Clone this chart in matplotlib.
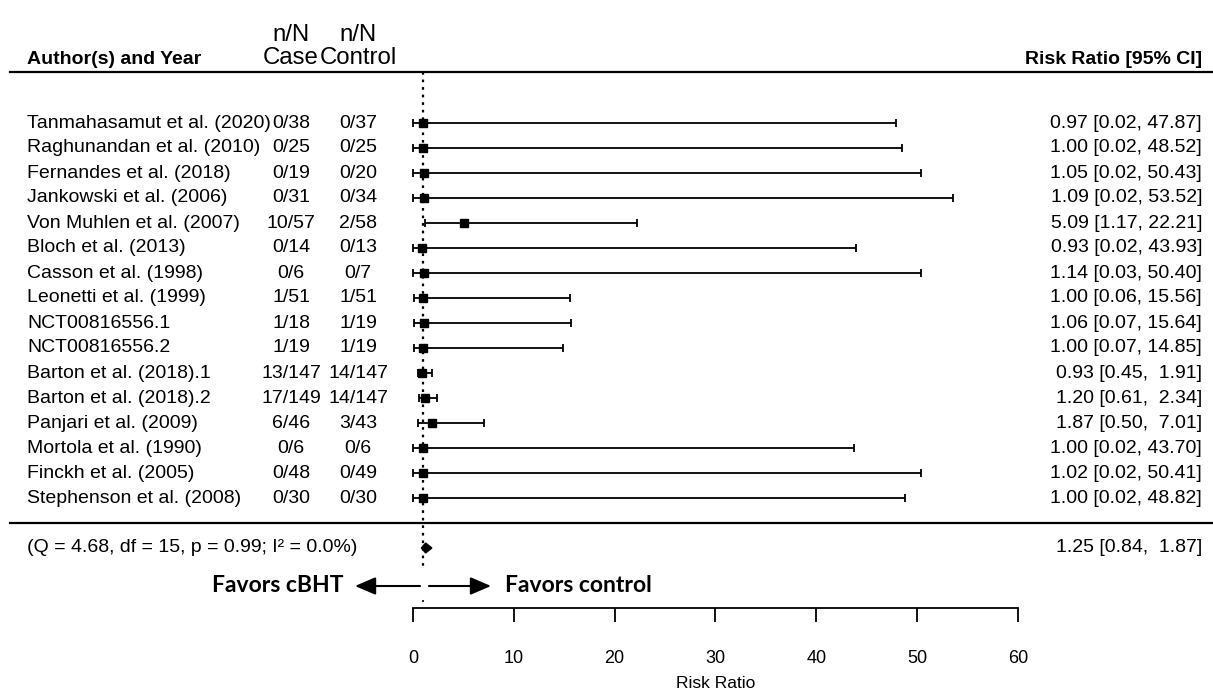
import matplotlib
matplotlib.use('Agg')
import matplotlib.pyplot as plt
import numpy as np

# study data
studies = ["Tanmahasamut et al. (2020)", "Raghunandan et al. (2010)", "Fernandes et al. (2018)",
           "Jankowski et al. (2006)", "Von Muhlen et al. (2007)", "Bloch et al. (2013)",
           "Casson et al. (1998)", "Leonetti et al. (1999)", "NCT00816556.1", "NCT00816556.2",
           "Barton et al. (2018).1", "Barton et al. (2018).2", "Panjari et al. (2009)",
           "Mortola et al. (1990)", "Finckh et al. (2005)", "Stephenson et al. (2008)"]
case_nN = ["0/38", "0/25", "0/19", "0/31", "10/57", "0/14", "0/6", "1/51", "1/18", "1/19",
           "13/147", "17/149", "6/46", "0/6", "0/48", "0/30"]
control_nN = ["0/37", "0/25", "0/20", "0/34", "2/58", "0/13", "0/7", "1/51", "1/19", "1/19",
              "14/147", "14/147", "3/43", "0/6", "0/49", "0/30"]
rr = [0.97, 1.00, 1.05, 1.09, 5.09, 0.93, 1.14, 1.00, 1.06, 1.00, 0.93, 1.20, 1.87, 1.00, 1.02, 1.00]
ci_lo = [0.02, 0.02, 0.02, 0.02, 1.17, 0.02, 0.03, 0.06, 0.07, 0.07, 0.45, 0.61, 0.50, 0.02, 0.02, 0.02]
ci_hi = [47.87, 48.52, 50.43, 53.52, 22.21, 43.93, 50.40, 15.56, 15.64, 14.85, 1.91, 2.34, 7.01,
         43.70, 50.41, 48.82]

# pooled estimate
pooled = 1.25
pooled_lo = 0.84
pooled_hi = 1.87
het_text = "(Q = 4.68, df = 15, p = 0.99; I\u00b2 = 0.0%)"
x_ticks = [0, 10, 20, 30, 40, 50, 60]

# layout (pixels of a 1213x695 canvas)
W, H = 1213, 695
X0_PX = 413.0          # where RR = 0 sits
PX_PER_RR = 10.083
ROW0_PX = 123.0        # first study row
ROW_PX = 25.0


def px2x(px):
    return (px - X0_PX) / PX_PER_RR


def px2y(py):
    return (py - ROW0_PX) / ROW_PX


fig = plt.figure(figsize=(W / 100, H / 100), dpi=100)
ax = fig.add_axes([0, 0, 1, 1])
ax.set_xlim(px2x(0), px2x(W))
ax.set_ylim(px2y(H), px2y(0))

font = ['Liberation Sans', 'DejaVu Sans']
fs = 14
k = len(studies)
rows = np.arange(k)

# headers
ax.text(px2x(27), px2y(64), "Author(s) and Year", family=font, fontsize=fs, fontweight='bold',
        ha='left', va='baseline')
ax.text(px2x(1202), px2y(64), "Risk Ratio [95% CI]", family=font, fontsize=fs, fontweight='bold',
        ha='right', va='baseline')
for cx, lab in [(291, "Case"), (358, "Control")]:
    ax.text(px2x(cx), px2y(64), lab, family=font, fontsize=17.3, ha='center', va='baseline')
    ax.text(px2x(cx), px2y(41), "n/N", family=font, fontsize=17.3, ha='center', va='baseline')

# horizontal rules
ax.axhline(px2y(72), xmin=10 / W, xmax=1, color='black', lw=1.6)
ax.axhline(k, xmin=10 / W, xmax=1, color='black', lw=1.6)

# reference line at RR = 1 (partly hidden behind the favors labels)
dots = (0, (1.2, 2.2))
ax.plot([1, 1], [px2y(72), px2y(566)], color='black', lw=1.6, linestyle=dots)
ax.plot([1, 1], [px2y(600), px2y(603)], color='black', lw=1.2, linestyle=dots)

# study rows
for i in range(k):
    ax.text(px2x(27), rows[i], studies[i], family=font, fontsize=fs, ha='left', va='center')
    ax.text(px2x(291), rows[i], case_nN[i], family=font, fontsize=fs, ha='center', va='center')
    ax.text(px2x(358), rows[i], control_nN[i], family=font, fontsize=fs, ha='center', va='center')
    lab = "%.2f [%.2f, %5.2f]" % (rr[i], ci_lo[i], ci_hi[i])
    ax.text(px2x(1202), rows[i], lab, family=font, fontsize=fs, ha='right', va='center')

ax.hlines(rows, ci_lo, ci_hi, color='black', lw=1.3)
ax.plot(ci_lo, rows, '|', color='black', ms=6, mew=1.3)
ax.plot(ci_hi, rows, '|', color='black', ms=6, mew=1.3)
ax.plot(rr, rows, 's', color='black', ms=6)

# pooled row
ys = k + 1
ax.fill([pooled_lo, pooled, pooled_hi, pooled], [ys, ys - 0.2, ys, ys + 0.2], color='black')
ax.text(px2x(27), ys, het_text, family=font, fontsize=fs, ha='left', va='center')
ax.text(px2x(1202), ys, "%.2f [%.2f, %5.2f]" % (pooled, pooled_lo, pooled_hi), family=font,
        fontsize=fs, ha='right', va='center')

# favors annotation
yf = px2y(586)
arrow = dict(arrowstyle='-|>,head_length=0.7,head_width=0.3', color='black', lw=1.5,
             shrinkA=0, shrinkB=0, mutation_scale=18)
ax.annotate("", xy=(px2x(355), yf), xytext=(px2x(420), yf), arrowprops=arrow)
ax.annotate("", xy=(px2x(491), yf), xytext=(px2x(429), yf), arrowprops=arrow)
ax.text(px2x(343), yf, "Favors cBHT", family=['Lato', 'DejaVu Sans'], fontsize=16.5,
        fontweight='bold', ha='right', va='center')
ax.text(px2x(505), yf, "Favors control", family=['Lato', 'DejaVu Sans'], fontsize=16.5,
        fontweight='bold', ha='left', va='center')

# risk ratio axis
for s in ['top', 'left', 'right']:
    ax.spines[s].set_visible(False)
ax.spines['bottom'].set_position(('data', px2y(608)))
ax.spines['bottom'].set_bounds(x_ticks[0], x_ticks[-1])
ax.spines['bottom'].set_linewidth(1.3)
ax.set_xticks(x_ticks)
ax.set_xticklabels([str(t) for t in x_ticks], family=font, fontsize=13)
ax.tick_params(axis='x', direction='out', length=10, width=1.3, pad=20)
ax.set_yticks([])
ax.text((x_ticks[0] + x_ticks[-1]) / 2, px2y(683), "Risk Ratio", family=font, fontsize=12.5,
        ha='center', va='center')

fig.savefig('out.png', dpi=100)
